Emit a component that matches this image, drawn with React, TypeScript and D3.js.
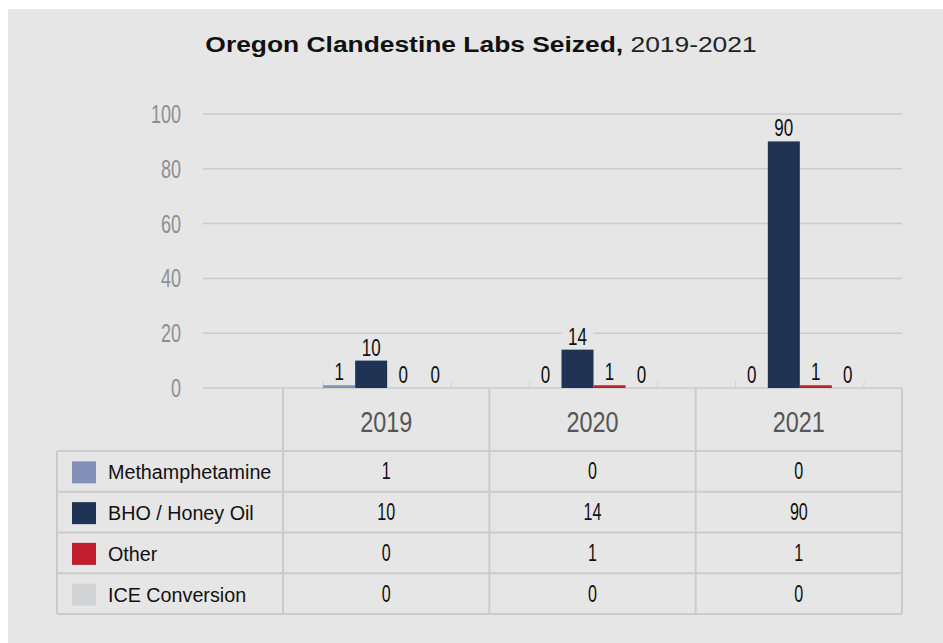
import React from "react";
import * as d3 from "d3";

const years = ["2019", "2020", "2021"];
const seriesNames = ["Methamphetamine", "BHO / Honey Oil", "Other", "ICE Conversion"];
const methValues = [1, 0, 0];
const bhoValues = [10, 14, 90];
const otherValues = [0, 1, 1];
const iceValues = [0, 0, 0];
const seriesColors = ["#8390b8", "#1f3354", "#c11f2f", "#d2d3d5"];
const yTicks = [0, 20, 40, 60, 80, 100];

const W = 943;
const H = 643;
const SANS = "'Liberation Sans', Arial, sans-serif";
const BG = "#e6e6e6";

function CText(props: {
  x: number;
  y: number;
  sx: number;
  size: number;
  fill: string;
  anchor?: string;
  weight?: string | number;
  children: React.ReactNode;
}) {
  const { x, y, sx, size, fill, anchor, weight, children } = props;
  return (
    <text
      transform={`translate(${x},${y}) scale(${sx},1)`}
      textAnchor={anchor || "middle"}
      fontFamily={SANS}
      fontSize={size}
      fontWeight={weight || "normal"}
      fill={fill}
    >
      {children}
    </text>
  );
}

export default function App() {
  const values = [methValues, bhoValues, otherValues, iceValues];
  const y = d3.scaleLinear().domain([0, 100]).range([388, 114]);
  const xCol = d3.scaleBand<string>().domain(years).range([283, 902]);
  const xInner = d3.scaleBand<string>().domain(seriesNames).range([-64, 64]);
  const bw = xInner.bandwidth();
  const gridX0 = 203;
  const gridX1 = 902;
  const tableLeft = 57;
  const headerTop = 388;
  const rowTop = 451;
  const tableBottom = 614;
  const rowH = (tableBottom - rowTop) / seriesNames.length;
  const groupShift = 1;
  const border = "#cbcbcb";

  return (
    <svg width={W} height={H} style={{ position: "absolute", left: 0, top: 0 }}>
      <rect x={0} y={0} width={W} height={H} fill="#ffffff" />
      <rect x={8} y={9} width={W - 8} height={H - 9} fill={BG} />
      <text
        transform={`translate(481,52) scale(1.2,1)`}
        textAnchor="middle"
        fontFamily={SANS}
        fontSize={22}
        fill="#111"
      >
        <tspan fontWeight="bold">Oregon Clandestine Labs Seized,</tspan>
        <tspan fill="#222"> 2019-2021</tspan>
      </text>

      {yTicks.map((t) => (
        <g key={t}>
          <line x1={gridX0} x2={gridX1} y1={y(t)} y2={y(t)} stroke={border} strokeWidth={1.5} />
          <CText x={181} y={y(t) + 9} sx={0.72} size={25} fill="#8f8f8f" anchor="end">
            {t}
          </CText>
        </g>
      ))}

      {years.map((yr) => {
        const cx = (xCol(yr) as number) + xCol.bandwidth() / 2 + groupShift;
        return (
          <g key={"ticks" + yr}>
            <line x1={cx - 64} x2={cx - 64} y1={380} y2={388} stroke="#c8c8c8" strokeWidth={1} />
            <line x1={cx + 64} x2={cx + 64} y1={380} y2={388} stroke="#c8c8c8" strokeWidth={1} />
          </g>
        );
      })}

      {years.map((yr, yi) => {
        const cx = (xCol(yr) as number) + xCol.bandwidth() / 2 + groupShift;
        return (
          <g key={"lab" + yr}>
            {seriesNames.map((s, si) => {
              const v = values[si][yi];
              const bx = cx + (xInner(s) as number);
              const base = y(v) - 5;
              return (
                <g key={s}>
                  <rect x={bx} y={base - 19} width={bw} height={21} fill={BG} />
                  <CText x={bx + bw / 2} y={base} sx={0.74} size={23} fill="#111">
                    {v}
                  </CText>
                </g>
              );
            })}
          </g>
        );
      })}

      {years.map((yr, yi) => {
        const cx = (xCol(yr) as number) + xCol.bandwidth() / 2 + groupShift;
        return (
          <g key={"bars" + yr}>
            {seriesNames.map((s, si) => {
              const v = values[si][yi];
              if (v <= 0) return null;
              const bx = cx + (xInner(s) as number);
              return <rect key={s} x={bx} y={y(v)} width={bw} height={y(0) - y(v)} fill={seriesColors[si]} />;
            })}
          </g>
        );
      })}

      <g>
        {years.map((yr) => (
          <CText
            key={"h" + yr}
            x={(xCol(yr) as number) + xCol.bandwidth() / 2}
            y={432}
            sx={0.78}
            size={30}
            fill="#555"
          >
            {yr}
          </CText>
        ))}
        {seriesNames.map((s, si) => {
          const top = rowTop + si * rowH;
          const cy = top + rowH / 2;
          return (
            <g key={"row" + s}>
              <rect x={72} y={cy - 10} width={24} height={22} fill={seriesColors[si]} />
              <CText x={108} y={cy + 8} sx={0.94} size={21} fill="#111" anchor="start">
                {s}
              </CText>
              {years.map((yr, yi) => (
                <CText
                  key={yr}
                  x={(xCol(yr) as number) + xCol.bandwidth() / 2}
                  y={cy + 8}
                  sx={0.7}
                  size={23}
                  fill="#111"
                >
                  {values[si][yi]}
                </CText>
              ))}
            </g>
          );
        })}
        {d3.range(seriesNames.length + 1).map((i) => (
          <line
            key={"hl" + i}
            x1={tableLeft}
            x2={902}
            y1={rowTop + i * rowH}
            y2={rowTop + i * rowH}
            stroke={border}
            strokeWidth={2}
          />
        ))}
        <line x1={tableLeft} x2={tableLeft} y1={rowTop} y2={tableBottom} stroke={border} strokeWidth={2} />
        {[283, ...years.map((yr) => (xCol(yr) as number) + xCol.bandwidth())].map((xx, i) => (
          <line key={"vl" + i} x1={xx} x2={xx} y1={headerTop} y2={tableBottom} stroke={border} strokeWidth={2} />
        ))}
      </g>
    </svg>
  );
}
